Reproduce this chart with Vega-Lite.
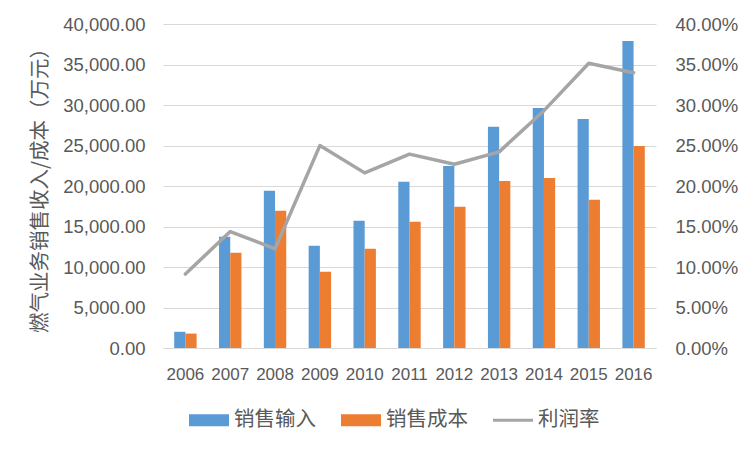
{
  "$schema": "https://vega.github.io/schema/vega-lite/v6.json",
  "width": 493,
  "height": 324,
  "autosize": {"type": "none"},
  "padding": {"left": 163, "top": 24, "right": 96, "bottom": 104},
  "background": "white",
  "config": {
    "view": {"stroke": null},
    "font": "Liberation Sans",
    "axis": {"labelColor": "#595959", "titleColor": "#595959"}
  },
  "datasets": {
    "bars": [
      {"year": "2006", "series": "销售输入", "value": 2000},
      {"year": "2006", "series": "销售成本", "value": 1780},
      {"year": "2007", "series": "销售输入", "value": 13730},
      {"year": "2007", "series": "销售成本", "value": 11750},
      {"year": "2008", "series": "销售输入", "value": 19400},
      {"year": "2008", "series": "销售成本", "value": 16930},
      {"year": "2009", "series": "销售输入", "value": 12620},
      {"year": "2009", "series": "销售成本", "value": 9410},
      {"year": "2010", "series": "销售输入", "value": 15700},
      {"year": "2010", "series": "销售成本", "value": 12250},
      {"year": "2011", "series": "销售输入", "value": 20510},
      {"year": "2011", "series": "销售成本", "value": 15580},
      {"year": "2012", "series": "销售输入", "value": 22480},
      {"year": "2012", "series": "销售成本", "value": 17430},
      {"year": "2013", "series": "销售输入", "value": 27300},
      {"year": "2013", "series": "销售成本", "value": 20630},
      {"year": "2014", "series": "销售输入", "value": 29640},
      {"year": "2014", "series": "销售成本", "value": 21000},
      {"year": "2015", "series": "销售输入", "value": 28280},
      {"year": "2015", "series": "销售成本", "value": 18290},
      {"year": "2016", "series": "销售输入", "value": 37900},
      {"year": "2016", "series": "销售成本", "value": 24950}
    ],
    "rate": [
      {"year": "2006", "series": "利润率", "rate": 0.0913},
      {"year": "2007", "series": "利润率", "rate": 0.1438},
      {"year": "2008", "series": "利润率", "rate": 0.1225},
      {"year": "2009", "series": "利润率", "rate": 0.2499},
      {"year": "2010", "series": "利润率", "rate": 0.2162},
      {"year": "2011", "series": "利润率", "rate": 0.2393},
      {"year": "2012", "series": "利润率", "rate": 0.2269},
      {"year": "2013", "series": "利润率", "rate": 0.2421},
      {"year": "2014", "series": "利润率", "rate": 0.2930},
      {"year": "2015", "series": "利润率", "rate": 0.3515},
      {"year": "2016", "series": "利润率", "rate": 0.3399}
    ]
  },
  "layer": [
    {
      "data": {"name": "bars"},
      "mark": {"type": "bar"},
      "encoding": {
        "x": {
          "field": "year",
          "type": "nominal",
          "scale": {"paddingInner": 0.5, "paddingOuter": 0.25},
          "axis": {
            "title": null,
            "labelAngle": 0,
            "labelFontSize": 17,
            "labelPadding": 18,
            "ticks": false,
            "domainColor": "#D9D9D9",
            "domainWidth": 1
          }
        },
        "xOffset": {
          "field": "series",
          "type": "nominal",
          "scale": {"domain": ["销售输入", "销售成本"], "paddingInner": 0, "paddingOuter": 0}
        },
        "y": {
          "field": "value",
          "type": "quantitative",
          "scale": {"domain": [0, 40000], "nice": false},
          "axis": {
            "title": "燃气业务销售收入/成本（万元）",
            "titleFont": "Noto Sans CJK SC",
            "titleFontSize": 20.5,
            "titleFontWeight": "normal",
            "titleX": -123,
            "titleY": 161,
            "titleAlign": "center",
            "titleBaseline": "middle",
            "titleAngle": -90,
            "format": ",.2f",
            "values": [0, 5000, 10000, 15000, 20000, 25000, 30000, 35000, 40000],
            "labelFontSize": 18.5,
            "labelPadding": 18,
            "grid": true,
            "gridColor": "#D9D9D9",
            "gridWidth": 1,
            "domain": false,
            "ticks": false
          }
        },
        "color": {
          "field": "series",
          "type": "nominal",
          "scale": {
            "domain": ["销售输入", "销售成本", "利润率"],
            "range": ["#5B9BD5", "#ED7D31", "#A5A5A5"]
          },
          "legend": {
            "title": null,
            "orient": "none",
            "direction": "horizontal",
            "legendX": 26,
            "legendY": 376,
            "labelFont": "Noto Sans CJK SC",
            "labelFontSize": 20.5,
            "labelColor": "#595959",
            "labelOffset": 5,
            "columnPadding": 25,
            "symbolSize": 1600,
            "encode": {
              "symbols": {
                "update": {
                  "shape": {"signal": "datum.value === '利润率' ? 'M-1,-0.08H1V0.08H-1Z' : 'M-1,-0.3H1V0.3H-1Z'"},
                  "fill": {"signal": "scale('color', datum.value)"},
                  "fillOpacity": {"value": 1},
                  "strokeWidth": {"value": 0}
                }
              }
            }
          }
        }
      }
    },
    {
      "data": {"name": "rate"},
      "mark": {"type": "line", "strokeWidth": 3.5, "strokeJoin": "round", "strokeCap": "round"},
      "encoding": {
        "x": {"field": "year", "type": "nominal"},
        "y": {
          "field": "rate",
          "type": "quantitative",
          "scale": {"domain": [0, 0.4], "nice": false},
          "axis": {
            "orient": "right",
            "title": null,
            "format": ".2%",
            "values": [0, 0.05, 0.1, 0.15, 0.2, 0.25, 0.3, 0.35, 0.4],
            "labelFontSize": 18.5,
            "labelPadding": 19,
            "grid": false,
            "domain": false,
            "ticks": false
          }
        },
        "color": {"field": "series", "type": "nominal"}
      }
    }
  ],
  "resolve": {"scale": {"y": "independent"}}
}
